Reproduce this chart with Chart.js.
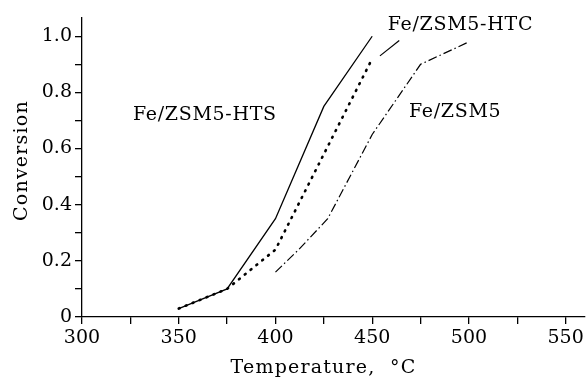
<!DOCTYPE html>
<html>
<head>
<meta charset="utf-8">
<script src="https://cdn.jsdelivr.net/npm/chart.js@4"></script>
<style>
  html, body { margin: 0; padding: 0; background: #fff; }
  #wrap { width: 588px; height: 381px; }
</style>
</head>
<body>
<div id="wrap"><canvas id="conv"></canvas></div>
<script>
// temperature (C) / conversion
const htsTemp = [350, 375, 400, 425, 450];
const htsConv = [0.03, 0.10, 0.35, 0.75, 1.0];

const htcTemp = [350, 375, 400, 425, 450];
const htcConv = [0.03, 0.10, 0.24, 0.58, 0.92];

const zsmTemp = [400, 412, 427, 450, 475, 500];
const zsmConv = [0.16, 0.24, 0.35, 0.65, 0.90, 0.98];

// leader from HTC curve to its label
const leaderTemp = [454, 464];
const leaderConv = [0.93, 0.985];

const xTicks = [300, 325, 350, 375, 400, 425, 450, 475, 500, 525, 550];
const yTicks = [0, 0.1, 0.2, 0.3, 0.4, 0.5, 0.6, 0.7, 0.8, 0.9, 1.0];

const curveLabels = [
    { text: 'Fe/ZSM5-HTS', x: 363.5, y: 0.72, align: 'center' },
    { text: 'Fe/ZSM5-HTC', x: 458, y: 1.04, align: 'left' },
    { text: 'Fe/ZSM5', x: 469, y: 0.73, align: 'left' }
];

const xTitle = 'Temperature,  °C';
const yTitle = 'Conversion';

function pts(xs, ys) {
    return xs.map((x, i) => ({ x: x, y: ys[i] }));
}

const serif = '"DejaVu Serif", "Liberation Serif", serif';

const labelPlugin = {
    id: 'curveLabels',
    afterDatasetsDraw(chart) {
        const c = chart.ctx;
        const xs = chart.scales.x, ys = chart.scales.y;
        const area = chart.chartArea;
        c.save();
        c.fillStyle = '#000';
        c.font = '19px ' + serif;
        c.letterSpacing = '0.7px';
        c.textBaseline = 'middle';
        curveLabels.forEach(l => {
            c.textAlign = l.align;
            c.fillText(l.text, xs.getPixelForValue(l.x), ys.getPixelForValue(l.y));
        });
        // axis titles
        c.letterSpacing = '1.2px';
        c.textAlign = 'center';
        c.fillText(xTitle, (area.left + area.right) / 2 - 10, 368);
        c.translate(22, (area.top + area.bottom) / 2 - 7);
        c.rotate(-Math.PI / 2);
        c.fillText(yTitle, 0, 0);
        c.restore();
    }
};

var ctx = document.getElementById('conv').getContext('2d');

var common = { fill: false, pointRadius: 0, borderColor: '#000', tension: 0 };

new Chart(ctx, {
    type: 'line',
    data: {
        datasets: [
            Object.assign({ label: 'HTS', data: pts(htsTemp, htsConv), borderWidth: 1.3 }, common),
            Object.assign({ label: 'HTC', data: pts(htcTemp, htcConv), borderWidth: 2.6,
                borderDash: [1, 6.5], borderCapStyle: 'round' }, common),
            Object.assign({ label: 'ZSM5', data: pts(zsmTemp, zsmConv), borderWidth: 1.2,
                borderDash: [9, 3, 1.5, 3] }, common),
            Object.assign({ label: 'leader', data: pts(leaderTemp, leaderConv), borderWidth: 1.2 }, common)
        ]
    },
    options: {
        responsive: true,
        maintainAspectRatio: false,
        animation: false,
        layout: { padding: { top: 18, right: 3, left: 0, bottom: 0 } },
        plugins: { legend: { display: false }, tooltip: { enabled: false } },
        scales: {
            x: {
                type: 'linear',
                min: 300,
                max: 560,
                afterBuildTicks: s => { s.ticks = xTicks.map(v => ({ value: v })); },
                afterFit: s => { s.height = 64; },
                border: { display: true, color: '#000', width: 1.3 },
                grid: { drawOnChartArea: false, drawTicks: true, tickLength: 7, color: '#000', lineWidth: 1.3 },
                ticks: {
                    autoSkip: false,
                    maxRotation: 0,
                    color: '#000',
                    padding: 3,
                    font: { family: serif, size: 19 },
                    callback: v => (v % 50 === 0 ? String(v) : '')
                }
            },
            y: {
                type: 'linear',
                min: 0,
                max: 1.065,
                afterBuildTicks: s => { s.ticks = yTicks.map(v => ({ value: v })); },
                afterFit: s => { s.width = 82; },
                border: { display: true, color: '#000', width: 1.3 },
                grid: { drawOnChartArea: false, drawTicks: true, tickLength: 7, color: '#000', lineWidth: 1.3 },
                ticks: {
                    autoSkip: false,
                    color: '#000',
                    padding: 3,
                    font: { family: serif, size: 19 },
                    callback: v => {
                        const k = Math.round(v * 10);
                        if (k % 2 !== 0) return '';
                        return k === 0 ? '0' : (k / 10).toFixed(1);
                    }
                }
            }
        }
    },
    plugins: [labelPlugin]
});
</script>
</body>
</html>
